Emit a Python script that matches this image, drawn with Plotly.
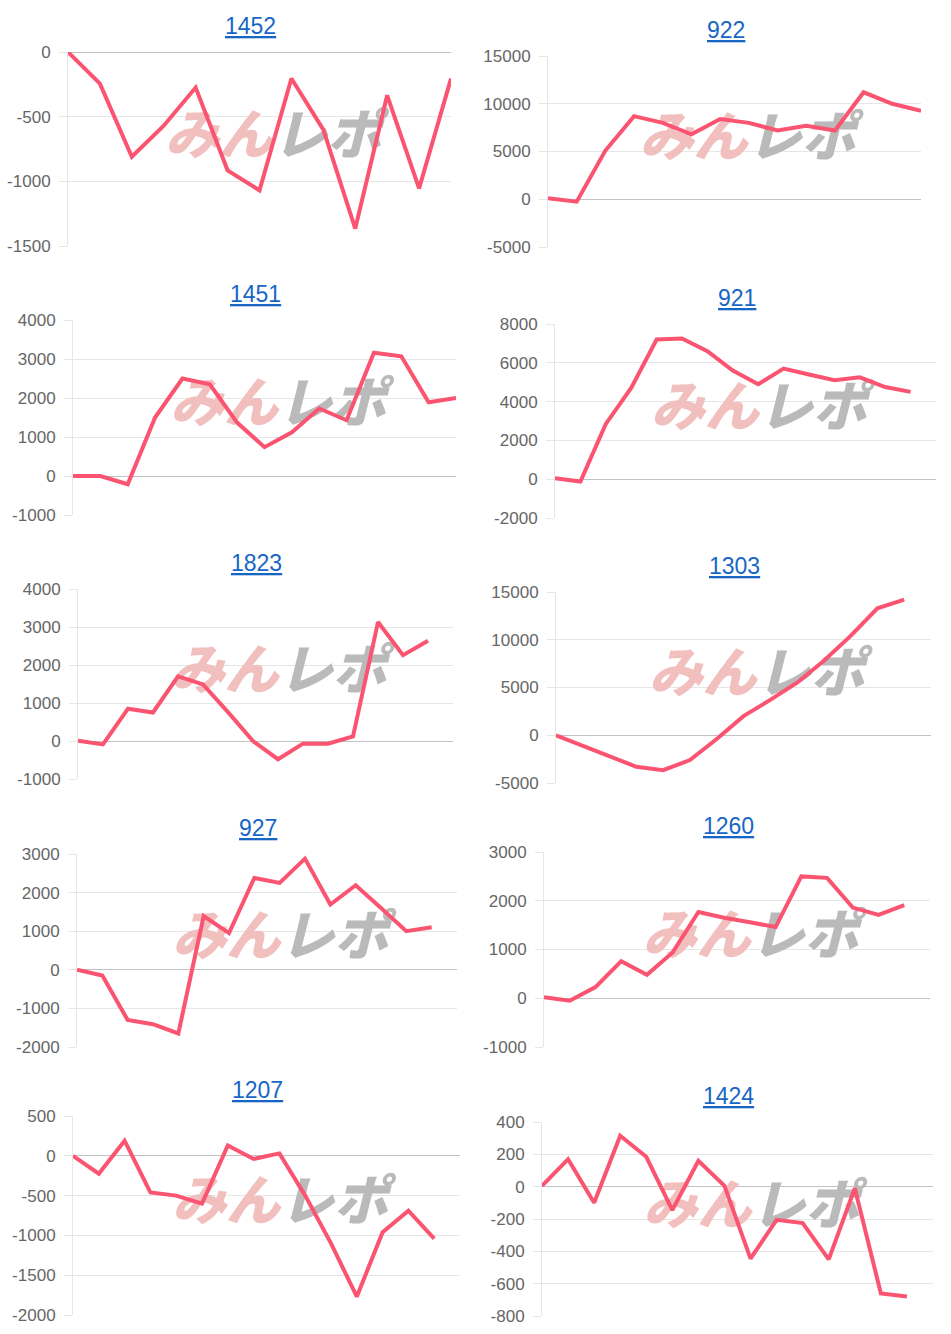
import plotly.graph_objects as go

W, H = 951, 1334

# ---------------- data ----------------
titles = ["1452", "922", "1451", "921", "1823", "1303", "927", "1260", "1207", "1424"]

v1452 = [0, -245, -810, -570, -275, -915, -1070, -205, -600, -1365, -335, -1055, -205]
v922 = [100, -250, 5100, 8700, 8000, 6800, 8400, 8000, 7200, 7700, 7200, 11200, 10000, 9250]
v1451 = [0, 0, -210, 1500, 2500, 2350, 1370, 740, 1120, 1730, 1430, 3160, 3070, 1890, 2000]
v921 = [50, -120, 2850, 4700, 7200, 7250, 6600, 5600, 4900, 5700, 5400, 5100, 5250, 4750, 4500]
v1823 = [10, -90, 850, 750, 1700, 1490, 760, 0, -480, -70, -70, 120, 3130, 2260, 2640]
v1303 = [0, -1100, -2260, -3300, -3650, -2600, -400, 2000, 3700, 5500, 7800, 10400, 13300, 14200]
v927 = [0, -150, -1300, -1410, -1650, 1390, 950, 2380, 2250, 2880, 1690, 2190, 1600, 1000, 1100]
v1260 = [20, -50, 230, 760, 480, 940, 1770, 1650, 1560, 1460, 2500, 2470, 1860, 1710, 1910]
v1207 = [0, -225, 190, -460, -500, -600, 130, -40, 30, -500, -1100, -1770, -960, -690, -1040]
v1424 = [5, 170, -100, 315, 185, -145, 160, 5, -445, -205, -225, -450, -10, -660, -680]

series = [v1452, v922, v1451, v921, v1823, v1303, v927, v1260, v1207, v1424]

# number of x categories (labels hidden) per chart
n_labels = [13, 14, 15, 16, 16, 15, 16, 16, 16, 16]

# y tick values / labels per chart
tick_vals = [
    [-1500, -1000, -500, 0],
    [-5000, 0, 5000, 10000, 15000],
    [-1000, 0, 1000, 2000, 3000, 4000],
    [-2000, 0, 2000, 4000, 6000, 8000],
    [-1000, 0, 1000, 2000, 3000, 4000],
    [-5000, 0, 5000, 10000, 15000],
    [-2000, -1000, 0, 1000, 2000, 3000],
    [-1000, 0, 1000, 2000, 3000],
    [-2000, -1500, -1000, -500, 0, 500],
    [-800, -600, -400, -200, 0, 200, 400],
]
tick_text = [[str(v) for v in tv] for tv in tick_vals]

watermark_a = "みん"
watermark_b = "レポ"

# ---------------- layout (pixel boxes of each plot area: left, right, top, bottom) ----------------
boxes = [
    (68, 451, 52, 246),
    (548, 921, 56, 247),
    (73, 456, 320, 515),
    (555, 936, 324, 518),
    (78, 453, 589, 779),
    (556, 931, 592, 783),
    (77, 457, 854, 1047),
    (544, 930, 852, 1047),
    (73, 460, 1116, 1315),
    (542, 933, 1122, 1316),
]

LINE = "rgb(250,84,112)"
GRID = "#e6e6e6"
ZERO = "#c2c2c2"
TICKFONT = dict(family="Liberation Sans, Arial, sans-serif", size=17, color="#666666")

fig = go.Figure()
annotations = []
layout_axes = {}

for i, (title, vals) in enumerate(zip(titles, series)):
    suffix = "" if i == 0 else str(i + 1)
    xref, yref = "x" + suffix, "y" + suffix
    n = n_labels[i]
    left, right, top, bottom = boxes[i]
    lo, hi = tick_vals[i][0], tick_vals[i][-1]

    # watermark (drawn first so the line stays on top)
    wx = (n - 1) * 0.535
    wy = lo + (hi - lo) * 0.545
    fig.add_trace(go.Scatter(
        x=[wx], y=[wy], mode="text",
        text=["<span style='color:#f2bfbf'>" + watermark_a + "</span>"
              "<span style='color:#bababa'>" + watermark_b + "</span>"],
        textfont=dict(family="Noto Sans CJK JP", size=54, weight=900, style="italic", color="#f2bfbf"),
        textposition="middle center",
        xaxis=xref, yaxis=yref, hoverinfo="skip", showlegend=False, cliponaxis=True,
    ))

    fig.add_trace(go.Scatter(
        x=list(range(len(vals))), y=vals, mode="lines",
        line=dict(color=LINE, width=4),
        xaxis=xref, yaxis=yref, showlegend=False, hoverinfo="skip",
    ))

    xd = [left / W, right / W]
    yd = [1 - bottom / H, 1 - top / H]
    layout_axes["xaxis" + suffix] = dict(
        domain=xd, range=[0, n - 1], visible=False, anchor=yref, fixedrange=True,
        automargin=False,
    )
    layout_axes["yaxis" + suffix] = dict(
        domain=yd, range=[lo, hi], anchor=xref,
        tickmode="array", tickvals=tick_vals[i], ticktext=tick_text[i],
        showgrid=True, gridcolor=GRID, gridwidth=1,
        zeroline=True, zerolinecolor=ZERO, zerolinewidth=1,
        showline=True, linecolor=GRID, linewidth=1,
        ticks="outside", ticklen=8, tickcolor=GRID, tickwidth=1,
        ticklabelstandoff=5, automargin=False,
        tickfont=TICKFONT, fixedrange=True,
    )

    cx = (left + right) / 2 - 9
    annotations.append(dict(
        text="<u>" + title + "</u>", x=cx / W, y=1 - (top - 26) / H,
        xref="paper", yref="paper", xanchor="center", yanchor="middle",
        showarrow=False,
        font=dict(family="Liberation Sans, Arial, sans-serif", size=23, color="#1766c6"),
    ))

fig.update_layout(
    width=W, height=H,
    margin=dict(l=0, r=0, t=0, b=0, pad=0, autoexpand=False),
    paper_bgcolor="white", plot_bgcolor="white",
    annotations=annotations,
    showlegend=False,
    **layout_axes,
)

fig.write_html("out.html", config={"displayModeBar": False})
